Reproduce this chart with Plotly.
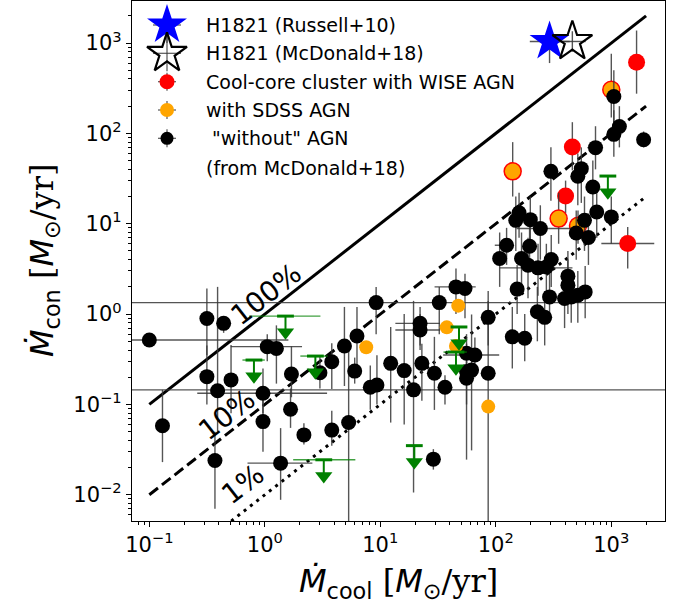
import math
import plotly.graph_objects as go

# ---------------- data ----------------
# cool-core clusters "without" AGN (McDonald+18): value, lower/upper bounds
bk_x   = [0.10, 0.13, 0.315, 0.315, 0.44, 0.39, 0.37, 0.51, 1.05, 1.26, 0.964, 0.964, 1.70, 1.67, 2.18, 3.0, 3.8, 3.8, 1.37,
          4.89, 6.28, 6.0, 5.32, 8.19, 9.35, 9.2, 12.3, 16.1, 19.4, 22.1, 22.1, 22.9, 29.4, 32.4, 36.3, 28.8,
          45.2, 54.1, 55.8, 65.9, 55.8, 61.7, 55.8, 85.9, 85.9, 108, 124, 139, 149, 159, 153, 178, 167, 199, 196,
          190, 232, 243, 274, 302, 229, 265, 292, 300, 421, 421, 394, 450, 513, 594, 497, 586, 634, 748, 692,
          513, 550, 730, 1000, 1052, 1175, 1052, 1905]
bk_y   = [0.516, 0.058, 0.895, 0.203, 0.79, 0.142, 0.024, 0.187, 0.436, 0.417, 0.133, 0.0646, 0.217, 0.0885, 0.046,
          0.224, 0.297, 0.052, 0.0224, 0.443, 0.571, 0.234, 0.063, 0.155, 0.164, 1.34, 0.285, 0.237, 0.145, 0.79,
          0.666, 0.285, 0.221, 1.34, 0.155, 0.0248, 2.0, 1.92, 0.368, 0.352, 0.231, 0.24, 0.195, 0.92, 0.221,
          4.12, 5.78, 0.56, 10.9, 13.2, 1.89, 0.54, 4.12, 11.1, 5.63, 3.48, 3.25, 8.85, 3.33, 4.02, 1.06, 0.92,
          1.55, 38, 2.63, 2.09, 1.49, 1.55, 1.62, 1.76, 7.9, 10.9, 7.03, 13.5, 25.5, 33.5, 40.7, 69.5, 11.9, 256,
          119, 97.5, 85]
bk_ylo = [0.516, 0.023, 0.35, 0.10, 0.62, 0.05, 0.007, 0.08, 0.30, 0.17, 0.08, 0.030, 0.12, 0.055, 0.036,
          0.15, 0.148, 0.035, 0.0088, 0.16, 0.26, 0.17, 1e-4, 0.0875, 0.10, 0.6, 0.063, 0.06, 0.0106, 0.45,
          0.4, 0.11, 0.087, 0.6, 0.10, 0.019, 1.0, 0.9, 0.2, 0.2, 0.0245, 0.031, 0.1, 0.45, 1e-4,
          2.0, 3.5, 0.25, 5, 7, 1.0, 0.3, 2, 5, 3, 1.5, 1.6, 4, 1.5, 2, 0.5, 0.45,
          0.8, 18, 1.3, 1, 0.7, 0.8, 0.8, 0.9, 4, 5, 3.5, 7, 12, 16, 17, 40, 6, 130,
          70, 55, 70]
bk_yhi = [0.516, 0.145, 1.92, 0.45, 0.95, 2.0, 0.05, 0.455, 0.60, 0.75, 0.25, 0.11, 0.44, 0.15, 0.062,
          0.35, 0.476, 0.085, 0.0547, 1.2, 1.2, 0.33, 0.4, 0.27, 0.35, 2.0, 0.72, 1.0, 1.4, 1.2,
          1.0, 0.47, 0.56, 2.0, 0.21, 0.032, 3.2, 2.8, 0.6, 0.55, 0.47, 0.99, 0.3, 1.8, 1.4,
          8, 9, 1.2, 20, 22, 3.5, 1.0, 8, 20, 10, 7, 6, 16, 6, 7.5, 2, 1.8,
          3, 70, 5, 4, 3, 3, 3, 3.4, 14, 20, 13, 25, 50, 60, 70, 120, 20, 500,
          200, 180, 105]
bk_xlo = [1e-6, 0.13, 0.315, 0.315, 0.44, 0.39, 0.37, 0.51, 0.507, 1.26, 0.26, 0.964, 1.70, 1.67, 2.18, 3.0, 3.8, 3.8, 0.708,
          4.89, 6.28, 6.0, 5.32, 8.19, 9.35, 9.2, 12.3, 16.1, 1e-6, 13.5, 13.5, 22.9, 29.4, 1e-6, 36.3, 25,
          29.5, 54.1, 55.8, 35, 55.8, 61.7, 55.8, 85.9, 85.9, 108, 98, 139, 149, 159, 153, 178, 167, 199, 196,
          190, 108, 151, 274, 302, 229, 265, 292, 300, 421, 421, 394, 450, 513, 594, 497, 586, 634, 748, 692,
          513, 550, 620, 1000, 900, 1175, 1052, 1750]
bk_xhi = [1.6, 0.13, 0.315, 0.315, 0.44, 0.39, 0.37, 0.51, 2.1, 1.26, 3.46, 0.964, 1.70, 1.67, 2.18, 3.0, 3.8, 3.8, 2.58,
          4.89, 6.28, 6.0, 5.32, 8.19, 9.35, 9.2, 12.3, 16.1, 1e5, 32.9, 32.9, 22.9, 29.4, 1e5, 36.3, 33,
          67, 54.1, 55.8, 107, 55.8, 61.7, 55.8, 85.9, 85.9, 108, 140, 139, 149, 159, 153, 178, 167, 199, 196,
          190, 461, 497, 274, 302, 229, 265, 292, 300, 421, 421, 394, 450, 513, 594, 497, 586, 634, 748, 692,
          513, 550, 850, 1000, 1200, 1175, 1052, 2100]

# cool-core clusters with WISE AGN
wise_x   = [402, 460, 1655, 1387]
wise_y   = [20.3, 70.7, 614, 6.04]
wise_ylo = [13, 39, 275, 3.2]
wise_yhi = [30, 133, 1375, 9.2]
wise_xlo = [402, 460, 1655, 820]
wise_xhi = [402, 460, 1655, 2355]

# WISE AGN that are also SDSS AGN
both_x   = [140, 350, 1000, 515]
both_y   = [38, 11.4, 304, 9.5]
both_ylo = [20, 6, 150, 6]
both_yhi = [80, 22, 760, 14]

# with SDSS AGN
sdss_x = [7.55, 37.6, 47.3, 45.2, 86]
sdss_y = [0.429, 0.713, 1.24, 0.443, 0.0946]

# upper limits
ul_x   = [1.51, 0.805, 2.74, 3.24, 19.7, 48, 45.2, 934]
ul_y   = [0.95, 0.31, 0.343, 0.0244, 0.035, 0.72, 0.38, 33.7]
ul_xlo = [0.73, 0.64, 2.03, 1.76, 19.7, 41.5, 35.2, 934]
ul_xhi = [3.03, 1.0, 3.5, 6.08, 19.7, 56, 56.1, 934]
ul_arrow = 10 ** 0.18   # arrow length factor

# H1821+643
h_russell   = dict(x=292, y=1040, xlo=197, xhi=437, ylo=600, yhi=1500)
h_mcdonald  = dict(x=460, y=1040, xlo=350, xhi=600, ylo=800, yhi=1350)

# efficiency lines
line_x = [0.1, 2000]
ratio_vals = [1.0, 0.1, 0.01]
ratio_dash = ["solid", "11px,5px", "3px,5px"]
ratio_labels = ["100%", "10%", "1%"]
label_x = [1.02, 0.474, 0.647]
label_y = [1.66, 0.0766, 0.0129]

xtick_vals = [0.1, 1, 10, 100, 1000]
xtick_text = ["10<sup>\u22121</sup>", "10<sup>0</sup>", "10<sup>1</sup>", "10<sup>2</sup>", "10<sup>3</sup>"]
ytick_vals = [0.01, 0.1, 1, 10, 100, 1000]
ytick_text = ["10<sup>\u22122</sup>", "10<sup>\u22121</sup>", "10<sup>0</sup>", "10<sup>1</sup>",
              "10<sup>2</sup>", "10<sup>3</sup>"]

legend_rows = ["H1821 (Russell+10)", "H1821 (McDonald+18)", "Cool-core cluster with WISE AGN",
               "with SDSS AGN", "\u00a0\"without\" AGN", "(from McDonald+18)"]

# ---------------- helpers ----------------
ECOL = "rgba(55,55,55,0.85)"
FONT = "DejaVu Sans"


def err(v, lo, hi, color=ECOL, thickness=1.4):
    return dict(type="data", symmetric=False,
                array=[h - a for a, h in zip(v, hi)],
                arrayminus=[a - l for a, l in zip(v, lo)],
                color=color, thickness=thickness, width=0)


fig = go.Figure()

# efficiency lines
for r, d in zip(ratio_vals, ratio_dash):
    fig.add_trace(go.Scatter(x=line_x, y=[r * v for v in line_x], mode="lines",
                             line=dict(color="black", width=3, dash=d),
                             hoverinfo="skip", showlegend=False))

# WISE AGN (red) and WISE+SDSS (orange with red edge)
fig.add_trace(go.Scatter(x=wise_x, y=wise_y, mode="markers",
                         error_y=err(wise_y, wise_ylo, wise_yhi),
                         error_x=err(wise_x, wise_xlo, wise_xhi),
                         marker=dict(color="red", size=17, line=dict(width=0)),
                         showlegend=False))
fig.add_trace(go.Scatter(x=both_x, y=both_y, mode="markers",
                         error_y=err(both_y, both_ylo, both_yhi),
                         marker=dict(color="orange", size=17, line=dict(width=1.5, color="red")),
                         showlegend=False))

# black points
fig.add_trace(go.Scatter(x=bk_x, y=bk_y, mode="markers",
                         error_y=err(bk_y, bk_ylo, bk_yhi),
                         error_x=err(bk_x, bk_xlo, bk_xhi),
                         marker=dict(color="black", size=15),
                         showlegend=False))

# SDSS AGN (orange)
fig.add_trace(go.Scatter(x=sdss_x, y=sdss_y, mode="markers",
                         marker=dict(color="orange", size=14), showlegend=False))

# upper limits
ul_tri = [v / ul_arrow for v in ul_y]
fig.add_trace(go.Scatter(x=ul_x, y=ul_y, mode="markers",
                         error_x=err(ul_x, ul_xlo, ul_xhi, color="rgba(0,128,0,0.75)", thickness=1.4),
                         error_y=dict(type="data", symmetric=False, array=[0] * len(ul_y),
                                      arrayminus=[a - b for a, b in zip(ul_y, ul_tri)],
                                      color="green", thickness=2, width=0),
                         marker=dict(symbol="line-ew", size=12, line=dict(width=3, color="green")),
                         showlegend=False))
fig.add_trace(go.Scatter(x=ul_x, y=ul_tri, mode="markers",
                         marker=dict(symbol="triangle-down", size=15, color="green"),
                         showlegend=False))

# H1821 stars
for h, sym, col, lw in [(h_russell, "star", "blue", 0), (h_mcdonald, "star-open", "black", 2.2)]:
    fig.add_trace(go.Scatter(x=[h["x"]], y=[h["y"]], mode="markers",
                             error_x=err([h["x"]], [h["xlo"]], [h["xhi"]]),
                             error_y=err([h["y"]], [h["ylo"]], [h["yhi"]]),
                             marker=dict(symbol=sym, size=30, color=col,
                                         line=dict(width=lw, color="black")),
                             showlegend=False))

# ---------------- legend (drawn on a hidden helper axis) ----------------
PL, PR, PT, PB = 132, 665, 1, 521
leg_py = [25, 53.3, 81.7, 110, 138.3, 168.3]
leg_y = [(PB - p) / (PB - PT) for p in leg_py]
leg_mx = (167 - PL) / (PR - PL)
leg_tx = (204 - PL) / (PR - PL)
leg_markers = [
    dict(symbol="star", size=30, color="blue", lw=0, cx=14, cy=18),
    dict(symbol="star-open", size=30, color="black", lw=2.2, cx=14, cy=18),
    dict(symbol="circle", size=15, color="red", lw=0, cx=9, cy=9),
    dict(symbol="circle", size=14, color="orange", lw=0, cx=9, cy=9),
    dict(symbol="circle", size=13, color="black", lw=0, cx=9, cy=9),
]
for m, yy in zip(leg_markers, leg_y):
    fig.add_trace(go.Scatter(
        x=[leg_mx], y=[yy], xaxis="x2", yaxis="y2", mode="markers",
        error_x=dict(type="constant", value=m["cx"] / (PR - PL), color=ECOL, thickness=1.2, width=0),
        error_y=dict(type="constant", value=m["cy"] / (PB - PT), color=ECOL, thickness=1.2, width=0),
        marker=dict(symbol=m["symbol"], size=m["size"], color=m["color"],
                    line=dict(width=m["lw"], color="black")),
        showlegend=False, hoverinfo="skip"))

annotations = []
for txt, yy in zip(legend_rows, leg_y):
    annotations.append(dict(text=txt, x=leg_tx, y=yy, xref="paper", yref="paper",
                            xanchor="left", yanchor="middle", showarrow=False,
                            font=dict(family=FONT, size=19, color="black")))

# annotations on log axes take log10 positions
for txt, lx, ly in zip(ratio_labels, label_x, label_y):
    annotations.append(dict(text=txt, x=math.log10(lx), y=math.log10(ly), xref="x", yref="y",
                            showarrow=False, textangle=-38,
                            font=dict(family=FONT, size=28, color="black")))

SERIF = "<span style=\"font-family:'DejaVu Serif'\">"
xtitle = ("<i>\u1e40</i><sub>cool</sub> " + SERIF + "[</span><i>M</i><sub>\u2299</sub>"
          + SERIF + "/yr]</span>")
ytitle = ("<i>\u1e40</i><sub>con</sub> " + SERIF + "[</span><i>M</i><sub>\u2299</sub>"
          + SERIF + "/yr]</span>")
annotations.append(dict(text=xtitle, x=0.5, y=(PB - 583) / (PB - PT), xref="paper", yref="paper",
                        xanchor="center", yanchor="middle", showarrow=False,
                        font=dict(family=FONT, size=32, color="black")))
annotations.append(dict(text=ytitle, x=(44 - PL) / (PR - PL), y=0.5, xref="paper", yref="paper",
                        xanchor="center", yanchor="middle", showarrow=False, textangle=-90,
                        font=dict(family=FONT, size=32, color="black")))

# minor tick positions
xminor = [m * 10 ** e for e in range(-2, 4) for m in range(2, 10)]
yminor = [m * 10 ** e for e in range(-3, 4) for m in range(2, 10)]

axis_common = dict(type="log", showgrid=False, zeroline=False, showline=True, linecolor="black",
                   linewidth=1.2, mirror=True, ticks="outside", ticklen=5, tickwidth=1,
                   tickcolor="black", tickmode="array", automargin=False,
                   tickfont=dict(family=FONT, size=21, color="black"))

fig.update_layout(
    template="none",
    width=685, height=614,
    margin=dict(l=PL, r=685 - PR, t=PT, b=614 - PB, autoexpand=False),
    paper_bgcolor="white", plot_bgcolor="white",
    showlegend=False,
    xaxis=dict(range=[-1.15, 3.465], tickvals=xtick_vals, ticktext=xtick_text,
               minor=dict(tickmode="array", tickvals=xminor, ticks="outside", ticklen=3,
                          tickwidth=0.8, tickcolor="black", showgrid=False),
               **axis_common),
    yaxis=dict(range=[-2.29, 3.465], tickvals=ytick_vals, ticktext=ytick_text,
               minor=dict(tickmode="array", tickvals=yminor, ticks="outside", ticklen=3,
                          tickwidth=0.8, tickcolor="black", showgrid=False),
               **axis_common),
    xaxis2=dict(overlaying="x", anchor="y2", range=[0, 1], visible=False, fixedrange=True,
                automargin=False),
    yaxis2=dict(overlaying="y", anchor="x2", range=[0, 1], visible=False, fixedrange=True,
                automargin=False),
    annotations=annotations,
    font=dict(family=FONT, color="black"),
)

fig.write_html("out.html", config={"displayModeBar": False},
               post_script="document.body.style.margin='0px';")
